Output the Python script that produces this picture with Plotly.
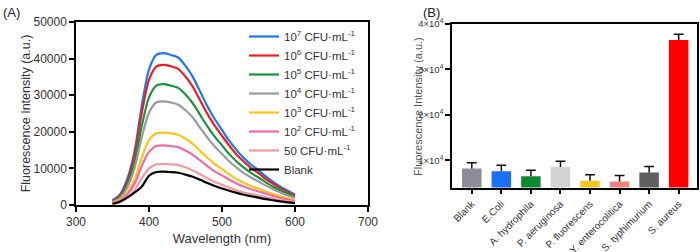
import plotly.graph_objects as go

# ---------------- Panel A data ----------------
wavelength = [350, 360, 370, 380, 390, 400, 410, 420, 430, 440, 450, 460, 470,
              480, 490, 500, 510, 520, 530, 540, 550, 560, 570, 580, 590, 600]

cfu_1e7 = [1300, 2800, 7000, 14500, 27000, 37000, 41000, 41500, 41000, 40300, 38000, 35000, 31000,
           27000, 23500, 20500, 17500, 15000, 12800, 11000, 9500, 7800, 6300, 5000, 3900, 2900]
cfu_1e6 = [1100, 2500, 6300, 13500, 25000, 34200, 37800, 38300, 37900, 37200, 35100, 32300, 28600,
           24900, 21700, 18900, 16200, 13800, 11800, 10100, 8700, 7100, 5800, 4600, 3500, 2600]
cfu_1e5 = [900, 2100, 5500, 11500, 21500, 29400, 32600, 33000, 32600, 32000, 30200, 27800, 24600,
           21500, 18700, 16300, 13900, 11900, 10200, 8700, 7500, 6200, 5000, 4000, 3100, 2200]
cfu_1e4 = [800, 1800, 4700, 9900, 18400, 25200, 28000, 28300, 28000, 27400, 25900, 23900, 21100,
           18400, 16000, 14000, 11900, 10200, 8700, 7500, 6400, 5300, 4300, 3400, 2600, 1900]
cfu_1e3 = [600, 1300, 3300, 6900, 12900, 17700, 19600, 19800, 19600, 19200, 18100, 16700, 14800,
           12900, 11200, 9800, 8400, 7100, 6100, 5200, 4500, 3700, 3000, 2400, 1800, 1300]
cfu_1e2 = [500, 1100, 2800, 5700, 10600, 14500, 16100, 16300, 16100, 15800, 14900, 13700, 12200,
           10600, 9200, 8100, 6900, 5900, 5000, 4300, 3700, 3100, 2500, 1900, 1500, 1100]
cfu_50 = [400, 800, 1900, 3900, 7300, 10000, 11100, 11200, 11100, 10900, 10300, 9400, 8400,
          7300, 6300, 5500, 4700, 4000, 3400, 3000, 2600, 2100, 1700, 1300, 1000, 800]
blank = [300, 900, 2000, 3400, 5000, 8000, 9000, 9100, 9000, 8800, 8300, 7700, 6900,
         6000, 5200, 4500, 3900, 3300, 2800, 2400, 2000, 1600, 1300, 1000, 700, 500]

series_names = ["10<sup>7</sup> CFU·mL<sup>-1</sup>", "10<sup>6</sup> CFU·mL<sup>-1</sup>",
                "10<sup>5</sup> CFU·mL<sup>-1</sup>", "10<sup>4</sup> CFU·mL<sup>-1</sup>",
                "10<sup>3</sup> CFU·mL<sup>-1</sup>", "10<sup>2</sup> CFU·mL<sup>-1</sup>",
                "50 CFU·mL<sup>-1</sup>", "Blank"]
series_values = [cfu_1e7, cfu_1e6, cfu_1e5, cfu_1e4, cfu_1e3, cfu_1e2, cfu_50, blank]
series_colors = ["#1f78ec", "#ee1d23", "#14943c", "#9a9a9e", "#fcc419", "#f06ca4", "#f59a9c", "#000000"]

# ---------------- Panel B data ----------------
bacteria = ["Blank", "E.Coli", "A. hydrophila", "P. aeruginosa", "P. fluorescens",
            "Y. enterocolitica", "S. typhimurium", "S. aureus"]
bar_values = [8200, 7600, 6500, 8500, 5500, 5300, 7300, 36500]
bar_sd = [1250, 1320, 1290, 1300, 1330, 1330, 1330, 1250]
bar_colors = ["#8c8d96", "#1b6ff2", "#0f8a2e", "#d2d2d2", "#f8c51c", "#f28282", "#5f5f62", "#fe0000"]
b_tickvals = [10000, 20000, 30000, 40000]
b_ticktext = ["1×10<sup>4</sup>", "2×10<sup>4</sup>", "3×10<sup>4</sup>", "4×10<sup>4</sup>"]

W, H = 700, 252
FONT = "Liberation Sans, Arial, sans-serif"
TXT = "#333333"

fig = go.Figure()

for name, vals, col in zip(series_names, series_values, series_colors):
    fig.add_trace(go.Scatter(x=wavelength, y=vals, mode="lines", name=name,
                             line=dict(color=col, width=2.2, shape="spline", smoothing=0.8),
                             xaxis="x", yaxis="y"))

fig.add_trace(go.Bar(x=bacteria, y=bar_values, marker=dict(color=bar_colors, line=dict(width=0)),
                     width=0.66, showlegend=False, xaxis="x2", yaxis="y2"))
# error bar stems (upper only)
fig.add_trace(go.Scatter(x=bacteria, y=bar_values, mode="markers", marker=dict(opacity=0, size=1),
                         error_y=dict(type="data", symmetric=False, array=bar_sd,
                                      arrayminus=[0] * len(bar_sd), width=0, thickness=1.5,
                                      color="#111111"),
                         showlegend=False, hoverinfo="skip", xaxis="x2", yaxis="y2"))
# caps
fig.add_trace(go.Scatter(x=bacteria, y=[v + s for v, s in zip(bar_values, bar_sd)], mode="markers",
                         marker=dict(symbol="line-ew", size=7, line=dict(width=1.5, color="#111111")),
                         showlegend=False, hoverinfo="skip", xaxis="x2", yaxis="y2"))

def px_x(p):
    return p / W

def px_y(p):
    return 1 - p / H

axis_common = dict(showline=True, linecolor="black", linewidth=1.5, mirror=True,
                   ticks="outside", ticklen=5, tickwidth=1.5, tickcolor="black",
                   showgrid=False, zeroline=False, automargin=False)

fig.update_layout(
    width=W, height=H,
    margin=dict(l=0, r=0, t=0, b=0, autoexpand=False),
    paper_bgcolor="white", plot_bgcolor="white",
    font=dict(family=FONT, color=TXT),
    xaxis=dict(domain=[px_x(76), px_x(368)], range=[300, 700], dtick=100, anchor="y",
               title=dict(text="Wavelength (nm)", font=dict(size=13, color=TXT), standoff=6),
               tickfont=dict(family=FONT, size=12, color=TXT), **axis_common),
    yaxis=dict(domain=[px_y(205), px_y(22)], range=[0, 50000], dtick=10000, tickformat="d", anchor="x",
               title=dict(text="Fluorescence Intensity (a.u.)", font=dict(size=12.5, color=TXT), standoff=0),
               tickfont=dict(family=FONT, size=12, color=TXT), **axis_common),
    xaxis2=dict(domain=[px_x(452), px_x(697)], range=[-0.67, 7.62], anchor="y2",
                tickangle=-45, tickfont=dict(family=FONT, size=10, color=TXT), **axis_common),
    yaxis2=dict(domain=[px_y(187.5), px_y(24)], range=[4000, 40000], anchor="x2",
                tickvals=b_tickvals, ticktext=b_ticktext,
                tickfont=dict(family=FONT, size=9.5, color=TXT), **axis_common),
    legend=dict(x=px_x(244), y=px_y(22), xanchor="left", yanchor="top",
                bgcolor="rgba(0,0,0,0)", font=dict(family=FONT, size=11.5, color=TXT),
                tracegroupgap=0, itemwidth=30),
    showlegend=True,
    annotations=[
        dict(text="(A)", x=px_x(1), y=px_y(12), xref="paper", yref="paper", showarrow=False,
             xanchor="left", yanchor="middle", font=dict(family=FONT, size=13, color="#222")),
        dict(text="(B)", x=px_x(421), y=px_y(12), xref="paper", yref="paper", showarrow=False,
             xanchor="left", yanchor="middle", font=dict(family=FONT, size=13, color="#222")),
        dict(text="Fluorescence Intensity (a.u.)", x=px_x(418), y=px_y(107), xref="paper", yref="paper",
             showarrow=False, textangle=-90, xanchor="center", yanchor="middle",
             font=dict(family=FONT, size=11, color="#555")),
    ],
)

fig.write_html("out.html", config={"displayModeBar": False},
               post_script="document.body.style.margin='0';document.body.style.overflow='hidden';")
